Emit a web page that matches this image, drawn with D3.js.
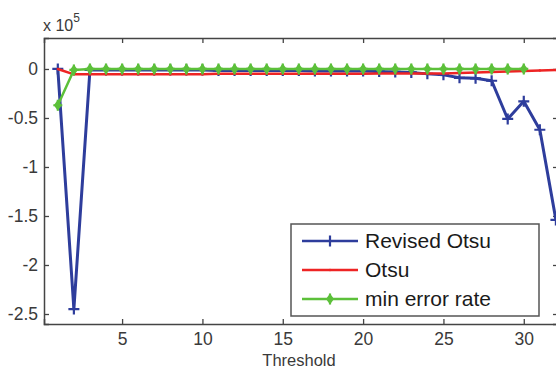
<!DOCTYPE html>
<html>
<head>
<meta charset="utf-8">
<script src="https://cdn.jsdelivr.net/npm/d3@7"></script>
<style>
  body { margin: 0; background: #fff; }
  svg { display: block; font-family: "Liberation Sans", Arial, sans-serif; }
</style>
</head>
<body>
<div id="chart"></div>
<script>
// threshold values on the x axis
var thresholds = [1, 2, 3, 4, 5, 6, 7, 8, 9, 10, 11, 12, 13, 14, 15, 16,
                  17, 18, 19, 20, 21, 22, 23, 24, 25, 26, 27, 28, 29, 30, 31, 32];

// series values (raw, axis shows them x 10^5)
var revisedOtsu = [0, -245000, -1000, -1000, -1000, -1000, -1000, -1000, -1000, -1000,
                   -1500, -1500, -1500, -1500, -1500, -1500, -2000, -2000, -2000, -2000,
                   -2500, -3000, -3500, -5000, -6000, -9000, -9500, -12000, -51000, -33000,
                   -62000, -154000];
var otsu = [0, -5500, -5500, -5500, -5500, -5500, -5500, -5500, -5500, -5500,
            -5000, -5000, -5000, -5000, -5000, -5000, -5000, -5000, -5000, -5000,
            -4500, -4500, -4500, -4500, -4500, -4000, -3500, -3000, -2500, -2000,
            -1500, -1000];
var minErrorRate = [-37000, -1000, 0, 0, 0, 0, 0, 0, 0, 0, 0, 0, 0, 0, 0, 0,
                    0, 0, 0, 0, 0, 0, 0, 0, 0, 0, 0, 0, 0, 0];

var xTicks = [5, 10, 15, 20, 25, 30];
var yTicks = [0, -50000, -100000, -150000, -200000, -250000];
var seriesNames = ["Revised Otsu", "Otsu", "min error rate"];

(function () {
    var width = 556, height = 368;
    var mLeft = 44, mRight = 558, mTop = 38, mBottom = 324;

    var svg = d3.select("#chart").append("svg")
        .attr("width", width)
        .attr("height", height);

    var x = d3.scaleLinear().domain([0.14, 32.13]).range([mLeft, mRight]);
    var y = d3.scaleLinear().domain([-260200, 31600]).range([mBottom, mTop]);

    var axisColor = "#444";
    var tickFont = "17.5px";

    // box + inward ticks
    var gx = svg.append("g")
        .attr("transform", "translate(0," + mBottom + ")")
        .call(d3.axisBottom(x).tickValues(xTicks).tickSize(-5).tickPadding(9)
            .tickFormat(d3.format("d")));
    var gxTop = svg.append("g")
        .attr("transform", "translate(0," + mTop + ")")
        .call(d3.axisTop(x).tickValues(xTicks).tickSize(-5).tickFormat(""));
    var gy = svg.append("g")
        .attr("transform", "translate(" + mLeft + ",0)")
        .call(d3.axisLeft(y).tickValues(yTicks).tickSize(-5).tickPadding(6)
            .tickFormat(function (d) { return d === 0 ? "0" : String(d / 1e5); }));
    var gyRight = svg.append("g")
        .attr("transform", "translate(" + mRight + ",0)")
        .call(d3.axisRight(y).tickValues(yTicks).tickSize(-5).tickFormat(""));

    [gx, gxTop, gy, gyRight].forEach(function (g) {
        g.select(".domain").attr("stroke", axisColor).attr("stroke-width", 1.5);
        g.selectAll(".tick line").attr("stroke", axisColor).attr("stroke-width", 1.3);
        g.selectAll(".tick text")
            .attr("fill", "#3a3a3a")
            .style("font-size", tickFont)
            .style("font-family", "Liberation Sans, Arial, sans-serif");
    });

    // scale factor label
    var sf = svg.append("text")
        .attr("x", 43).attr("y", 31)
        .attr("fill", "#3a3a3a")
        .style("font-size", "16px");
    sf.append("tspan").text("x 10");
    sf.append("tspan").attr("dy", -9).style("font-size", "12px").text("5");

    // x label
    svg.append("text")
        .attr("x", 299).attr("y", 366)
        .attr("text-anchor", "middle")
        .attr("fill", "#3a3a3a")
        .style("font-size", "16.5px")
        .text("Threshold");

    var line = d3.line()
        .x(function (d) { return x(d.t); })
        .y(function (d) { return y(d.v); });

    function pairs(vals) {
        return vals.map(function (v, i) { return { t: thresholds[i], v: v }; });
    }

    var series = [
        { name: seriesNames[0], data: pairs(revisedOtsu), color: "#2e3d9c", width: 3, marker: "plus" },
        { name: seriesNames[1], data: pairs(otsu), color: "#ee2424", width: 2.5, marker: "dot" },
        { name: seriesNames[2], data: pairs(minErrorRate), color: "#5cc03a", width: 2.5, marker: "star" }
    ];

    function drawMarker(g, cx, cy, kind, color) {
        if (kind === "plus") {
            g.append("path")
                .attr("d", "M" + (cx - 5.5) + "," + cy + "H" + (cx + 5.5) + "M" + cx + "," + (cy - 5.5) + "V" + (cy + 5.5))
                .attr("stroke", color).attr("stroke-width", 2.2).attr("fill", "none");
        } else if (kind === "star") {
            g.append("path")
                .attr("d", "M" + cx + "," + (cy - 5.5) + "L" + (cx + 4) + "," + cy +
                    "L" + cx + "," + (cy + 5.5) + "L" + (cx - 4) + "," + cy + "Z")
                .attr("fill", color);
            g.append("path")
                .attr("d", "M" + (cx - 4.5) + "," + cy + "H" + (cx + 4.5) + "M" + cx + "," + (cy - 5.5) + "V" + (cy + 5.5))
                .attr("stroke", color).attr("stroke-width", 2.2).attr("fill", "none");
        } else {
            g.append("circle").attr("cx", cx).attr("cy", cy).attr("r", 1.2).attr("fill", color);
        }
    }

    // draw order: blue, red, green on top
    var plot = svg.append("g");
    series.forEach(function (s) {
        var g = plot.append("g");
        g.append("path")
            .datum(s.data)
            .attr("d", line)
            .attr("fill", "none")
            .attr("stroke", s.color)
            .attr("stroke-width", s.width)
            .attr("stroke-linejoin", "round");
        s.data.forEach(function (d) {
            drawMarker(g, x(d.t), y(d.v), s.marker, s.color);
        });
    });

    // legend
    var legend = svg.append("g");
    legend.append("rect")
        .attr("x", 291).attr("y", 224)
        .attr("width", 248).attr("height", 92)
        .attr("fill", "#fff")
        .attr("stroke", "#555")
        .attr("stroke-width", 1.5);

    var rowY = [241, 270, 299];
    series.forEach(function (s, i) {
        var ly = rowY[i];
        legend.append("line")
            .attr("x1", 302).attr("x2", 358)
            .attr("y1", ly).attr("y2", ly)
            .attr("stroke", s.color).attr("stroke-width", 2.5);
        drawMarker(legend, 330, ly, s.marker, s.color);
        legend.append("text")
            .attr("x", 365).attr("y", ly)
            .attr("dy", "0.35em")
            .attr("fill", "#1a1a1a")
            .style("font-size", "21px")
            .text(s.name);
    });
})();
</script>
</body>
</html>
